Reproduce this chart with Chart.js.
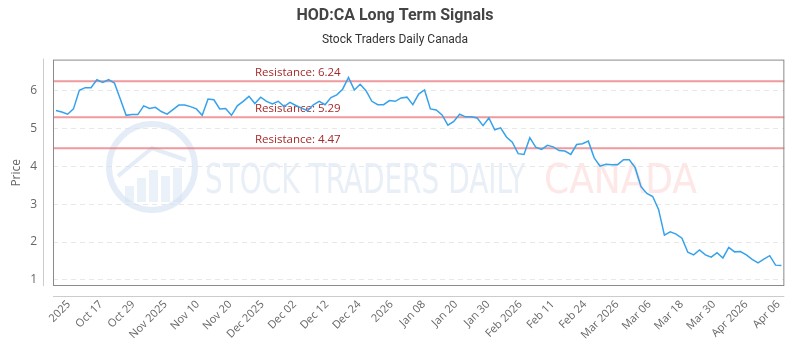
<!DOCTYPE html>
<html>
<head>
<meta charset="utf-8">
<script src="https://cdn.jsdelivr.net/npm/chart.js@4.4.0/dist/chart.umd.min.js"></script>
<style>
  html, body { margin: 0; padding: 0; background: #fff; }
  #wrap { width: 800px; height: 350px; }
</style>
</head>
<body>
<div id="wrap"><canvas id="chart" width="800" height="350"></canvas></div>
<script>
// daily closes
const prices = [
  5.47, 5.43, 5.37, 5.51, 6.00, 6.07, 6.07, 6.28, 6.21, 6.28,
  6.19, 5.77, 5.34, 5.36, 5.36, 5.59, 5.52, 5.55, 5.44, 5.37,
  5.49, 5.61, 5.61, 5.57, 5.51, 5.34, 5.77, 5.75, 5.51, 5.52,
  5.34, 5.59, 5.71, 5.84, 5.65, 5.82, 5.71, 5.64, 5.71, 5.57,
  5.68, 5.60, 5.53, 5.46, 5.62, 5.71, 5.62, 5.81, 5.88, 6.03,
  6.34, 6.01, 6.16, 5.99, 5.71, 5.62, 5.62, 5.73, 5.71, 5.80,
  5.82, 5.62, 5.90, 6.01, 5.51, 5.48, 5.35, 5.08, 5.18, 5.37,
  5.30, 5.30, 5.27, 5.07, 5.27, 4.96, 5.01, 4.77, 4.63, 4.33,
  4.31, 4.75, 4.50, 4.44, 4.55, 4.51, 4.41, 4.40, 4.31, 4.57,
  4.59, 4.66, 4.22, 4.00, 4.05, 4.04, 4.04, 4.17, 4.17, 3.96,
  3.46, 3.28, 3.20, 2.86, 2.18, 2.27, 2.21, 2.10, 1.73, 1.66,
  1.79, 1.66, 1.60, 1.72, 1.58, 1.86, 1.74, 1.75, 1.66, 1.54,
  1.45, 1.55, 1.64, 1.39, 1.38
];

const tickLabels = [
  '2025', 'Oct 17', 'Oct 29', 'Nov 2025', 'Nov 10', 'Nov 20', 'Dec 2025',
  'Dec 02', 'Dec 12', 'Dec 24', '2026', 'Jan 08', 'Jan 20', 'Jan 30',
  'Feb 2026', 'Feb 11', 'Feb 24', 'Mar 2026', 'Mar 06', 'Mar 18',
  'Mar 30', 'Apr 2026', 'Apr 06'
];

const resistanceLevels = [6.24, 5.29, 4.47];

const FONT = "'Open Sans', sans-serif";

// logo + "STOCK TRADERS DAILY CANADA" behind the line
const watermark = {
  id: 'watermark',
  beforeDatasetsDraw(chart) {
    const ctx = chart.ctx;
    ctx.save();
    // circle logo
    ctx.strokeStyle = 'rgba(210, 224, 242, 0.6)';
    ctx.lineWidth = 6;
    ctx.beginPath();
    ctx.arc(152, 167, 43, 0, Math.PI * 2);
    ctx.stroke();
    ctx.fillStyle = 'rgba(210, 224, 242, 0.45)';
    const bars = [[125, 186, 9], [137, 178, 9], [149, 170, 9], [161, 176, 9], [173, 168, 9]];
    bars.forEach(b => ctx.fillRect(b[0], b[1], b[2], 202 - b[1]));
    ctx.strokeStyle = 'rgba(210, 224, 242, 0.6)';
    ctx.lineWidth = 4;
    ctx.beginPath();
    ctx.moveTo(118, 176);
    ctx.lineTo(152, 148);
    ctx.lineTo(186, 160);
    ctx.stroke();

    // text, squeezed to the width seen in the picture
    const drawFit = (txt, x, w, color) => {
      ctx.font = "40px 'DejaVu Sans Condensed', 'DejaVu Sans', sans-serif";
      const m = ctx.measureText(txt).width;
      ctx.save();
      ctx.translate(x, 193);
      ctx.scale(w / m, 1);
      ctx.fillStyle = color;
      ctx.textBaseline = 'alphabetic';
      ctx.fillText(txt, 0, 0);
      ctx.restore();
    };
    drawFit('STOCK TRADERS DAILY', 205, 320, 'rgba(228, 235, 245, 0.8)');
    drawFit('CANADA', 544, 153, 'rgba(253, 225, 225, 0.8)');
    ctx.restore();
  }
};

const resistance = {
  id: 'resistance',
  beforeDatasetsDraw(chart) {
    const { ctx, chartArea } = chart;
    const y = chart.scales.y;
    ctx.save();
    resistanceLevels.forEach(level => {
      const py = y.getPixelForValue(level);
      ctx.strokeStyle = 'rgba(232, 120, 125, 0.75)';
      ctx.lineWidth = 2;
      ctx.beginPath();
      ctx.moveTo(chartArea.left, py);
      ctx.lineTo(chartArea.right, py);
      ctx.stroke();
      ctx.fillStyle = '#a52a2a';
      ctx.font = '11.5px ' + FONT;
      ctx.textBaseline = 'alphabetic';
      ctx.fillText('Resistance: ' + level.toFixed(2), 255, py - 5);
    });
    ctx.restore();
  }
};

// grey frame round the plot plus the two offset axis lines
const frame = {
  id: 'frame',
  afterDraw(chart) {
    const { ctx, chartArea } = chart;
    ctx.save();
    ctx.strokeStyle = '#cccccc';
    ctx.lineWidth = 1;
    ctx.beginPath();
    ctx.moveTo(43.5, chartArea.top - 1);
    ctx.lineTo(43.5, chartArea.bottom);
    ctx.moveTo(chartArea.left, chartArea.bottom + 10.5);
    ctx.lineTo(chartArea.right, chartArea.bottom + 10.5);
    ctx.stroke();
    ctx.strokeStyle = '#8a8a8a';
    ctx.strokeRect(chartArea.left + 0.5, chartArea.top + 0.5,
      chartArea.right - chartArea.left - 1, chartArea.bottom - chartArea.top - 1);
    ctx.restore();
  }
};

const ctx = document.getElementById('chart').getContext('2d');
new Chart(ctx, {
  type: 'line',
  data: {
    labels: prices.map((_, i) => i),
    datasets: [{
      data: prices,
      xAxisID: 'x',
      yAxisID: 'y',
      borderColor: '#36a2eb',
      borderWidth: 1.5,
      pointRadius: 0,
      tension: 0,
      fill: false
    }]
  },
  options: {
    responsive: false,
    animation: false,
    layout: { padding: { left: 0, right: 10, top: 0, bottom: 0 } },
    plugins: {
      legend: { display: false },
      tooltip: { enabled: false },
      title: {
        display: true,
        text: 'HOD:CA Long Term Signals',
        color: '#444',
        font: { family: 'Roboto', size: 16, weight: 'bold' },
        padding: { top: 6, bottom: 6 }
      },
      subtitle: {
        display: true,
        text: 'Stock Traders Daily Canada',
        color: '#333',
        font: { family: 'Roboto', size: 12 },
        padding: { top: 2, bottom: 12 }
      }
    },
    scales: {
      x: {
        type: 'category',
        display: false,
        offset: true
      },
      xt: {
        type: 'linear',
        position: 'bottom',
        min: -0.49,
        max: 22.18,
        grid: { display: false, drawTicks: false },
        border: { display: false },
        afterFit: (scale) => { scale.height = 64; },
        ticks: {
          stepSize: 1,
          includeBounds: false,
          autoSkip: false,
          maxRotation: 45,
          minRotation: 45,
          padding: 12,
          color: '#666',
          font: { family: FONT, size: 11 },
          callback: (v) => tickLabels[v] !== undefined ? tickLabels[v] : ''
        }
      },
      y: {
        min: 0.84,
        max: 6.81,
        afterFit: (scale) => { scale.width = 53; },
        grid: {
          color: '#e8e8e8',
          drawTicks: false
        },
        border: { display: false, dash: [5, 4] },
        ticks: {
          stepSize: 1,
          includeBounds: false,
          padding: 16,
          color: '#666',
          font: { family: FONT, size: 12 }
        },
        title: {
          display: true,
          text: 'Price',
          color: '#666',
          font: { family: FONT, size: 12 },
          padding: { top: 9, bottom: 0 }
        }
      }
    }
  },
  plugins: [watermark, resistance, frame]
});
</script>
</body>
</html>
